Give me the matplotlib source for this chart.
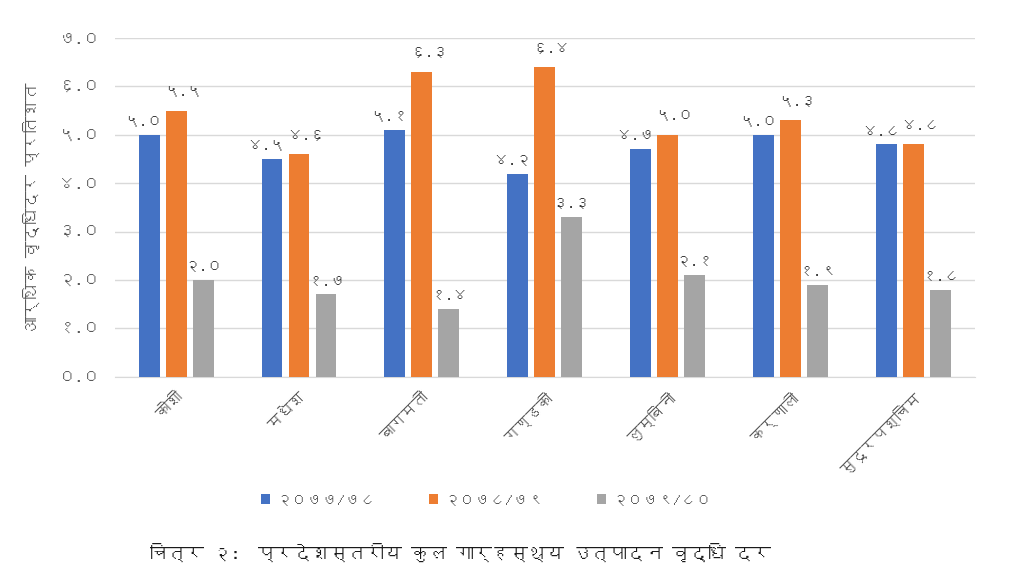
import matplotlib
matplotlib.use("Agg")
import matplotlib.pyplot as plt
from matplotlib import font_manager
from matplotlib.ft2font import FT2Font
import numpy as np

# ====================================================
# Data
# ====================================================

provinces = ["कोशी", "मधेश", "बागमती", "गण्डकी", "लुम्बिनी", "कर्णाली", "सुदूरपश्चिम"]
years = ["२०७७/७८", "२०७८/७९", "२०७९/८०"]
fy_7778 = [5.0, 4.5, 5.1, 4.2, 4.7, 5.0, 4.8]
fy_7879 = [5.5, 4.6, 6.3, 6.4, 5.0, 5.3, 4.8]
fy_7980 = [2.0, 1.7, 1.4, 3.3, 2.1, 1.9, 1.8]
y_ticks = [0, 1, 2, 3, 4, 5, 6, 7]

y_label = "आर्थिक वृद्धिदर प्रतिशत"
caption = "चित्र २:  प्रदेशस्तरीय कुल गार्हस्थ्य उत्पादन वृद्धि दर"

colors = ["#4472C4", "#ED7D31", "#A5A5A5"]


# ====================================================
# Helpers
# ====================================================

def find_devanagari_fonts():
    """Families that actually contain Devanagari glyphs"""
    found = []
    for f in font_manager.fontManager.ttflist:
        try:
            cmap = FT2Font(f.fname).get_charmap()
        except Exception:
            continue
        if 0x0915 in cmap and f.name not in found:
            found.append(f.name)
    return found


def to_deva(s):
    """Western digits -> Devanagari digits"""
    return s.translate(str.maketrans("0123456789", "०१२३४५६७८९"))


families = find_devanagari_fonts() + ["Noto Sans", "DejaVu Sans"]
plt.rcParams["font.family"] = families


# ====================================================
# Plot
# ====================================================

fig = plt.figure(figsize=(10.24, 5.85), dpi=100)
ax = fig.add_axes([0.112, 0.356, 0.84, 0.579])

x = np.arange(len(provinces))
width = 0.17
step = 0.22
series = [fy_7778, fy_7879, fy_7980]
# label offsets (points) so neighbouring labels don't collide
offsets = [(-4, 5), (5, 9), (0, 5)]

for i, (vals, c, lab) in enumerate(zip(series, colors, years)):
    pos = x + (i - 1) * step
    ax.bar(pos, vals, width, color=c, label=lab, zorder=3)
    for p, v in zip(pos, vals):
        ax.annotate(to_deva(f"{v:.1f}"), (p, v), xytext=offsets[i],
                    textcoords="offset points", ha="center", va="bottom",
                    fontsize=11, color="#404040")

ax.set_ylim(0, 7)
ax.set_xlim(-0.5, len(provinces) - 0.5)
ax.set_yticks(y_ticks)
ax.set_yticklabels([to_deva(f"{t:.1f}") for t in y_ticks], fontsize=12, color="#595959")
ax.set_xticks(x)
ax.set_xticklabels(provinces, rotation=45, ha="right", rotation_mode="anchor",
                   fontsize=11, color="#595959")

for s in ["top", "right", "left"]:
    ax.spines[s].set_visible(False)
ax.spines["bottom"].set_color("#D9D9D9")
ax.tick_params(axis="both", length=0, pad=10)
ax.yaxis.grid(True, color="#D9D9D9", linewidth=1, zorder=0)

ax.set_ylabel(y_label, fontsize=12, color="#595959", labelpad=14)

fig.legend(loc="center", bbox_to_anchor=(0.475, 0.145), ncol=3, frameon=False,
           fontsize=11, handlelength=0.6, handleheight=0.6, handletextpad=0.4,
           columnspacing=3.5, labelcolor="#595959")

fig.text(0.45, 0.055, caption, ha="center", va="center", fontsize=13,
         fontweight="bold", color="#1a1a1a")

plt.savefig("out.png", dpi=100)
